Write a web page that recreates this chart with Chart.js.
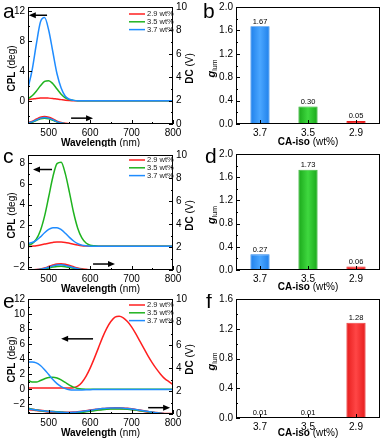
<!DOCTYPE html>
<html>
<head>
<meta charset="utf-8">
<script src="https://cdn.jsdelivr.net/npm/chart.js@4.4.1/dist/chart.umd.min.js"></script>
<style>
  html, body { margin: 0; padding: 0; background: #fff; }
  #fig { position: relative; width: 385px; height: 441px; overflow: hidden; }
  #fig canvas { position: absolute; }
</style>
</head>
<body>
<div id="fig">
  <canvas id="chartA" width="200" height="147" style="left:0;top:0"></canvas>
  <canvas id="chartB" width="185" height="147" style="left:200px;top:0"></canvas>
  <canvas id="chartC" width="200" height="147" style="left:0;top:147px"></canvas>
  <canvas id="chartD" width="185" height="147" style="left:200px;top:147px"></canvas>
  <canvas id="chartE" width="200" height="147" style="left:0;top:294px"></canvas>
  <canvas id="chartF" width="185" height="147" style="left:200px;top:294px"></canvas>
</div>
<script>
// wavelength grid (nm) used by every spectrum
const wavelengths = [450,460,470,480,490,500,510,520,530,540,550,560,570,580,590,600,610,620,
                     630,640,650,660,670,680,690,700,710,720,730,740,750,760,770,780,790,800];
const seriesNames = ['2.9 wt%', '3.5 wt%', '3.7 wt%'];

// panel a - CPL (deg) and DC (V)
const cplA_29 = [0.15,0.22,0.30,0.36,0.38,0.35,0.30,0.22,0.15,0.08,0.04,0.01, 0,0,0,0,0,0,0,0,0,0,0,0, 0,0,0,0,0,0,0,0,0,0,0,0];
const cplA_35 = [0.28,0.66,1.27,2.00,2.57,2.68,2.27,1.56,0.88,0.40,0.15,0.05, 0,0,0,0,0,0,0,0,0,0,0,0, 0,0,0,0,0,0,0,0,0,0,0,0];
const cplA_37 = [1.7,4.1,7.5,10.5,11.1,9.4,6.5,3.6,1.7,0.6,0.2,0.05, 0,0,0,0,0,0,0,0,0,0,0,0, 0,0,0,0,0,0,0,0,0,0,0,0];
const dcA_29 = [0.10,0.20,0.38,0.55,0.62,0.55,0.40,0.22,0.10,0.03,0,0, 0,0,0,0,0,0,0,0,0,0,0,0, 0,0,0,0,0,0,0,0,0,0,0,0];
const dcA_35 = [0.08,0.16,0.30,0.44,0.50,0.44,0.32,0.18,0.08,0.02,0,0, 0,0,0,0,0,0,0,0,0,0,0,0, 0,0,0,0,0,0,0,0,0,0,0,0];
const dcA_37 = [0.09,0.18,0.34,0.50,0.56,0.50,0.36,0.20,0.09,0.03,0,0, 0,0,0,0,0,0,0,0,0,0,0,0, 0,0,0,0,0,0,0,0,0,0,0,0];

// panel c
const cplC_29 = [-0.05,0,0.05,0.12,0.20,0.29,0.36,0.40,0.40,0.36,0.28,0.19, 0.11,0.05,0.02,0,0,0,0,0,0,0,0,0, 0,0,0,0,0,0,0,0,0,0,0,0];
const cplC_35 = [0.08,0.25,0.67,1.51,2.90,4.77,6.68,7.97,8.10,7.00,5.20,3.25, 1.74,0.80,0.31,0.10,0.03,0,0,0,0,0,0,0, 0,0,0,0,0,0,0,0,0,0,0,0];
const cplC_37 = [0.25,0.35,0.55,0.90,1.30,1.62,1.78,1.78,1.60,1.25,0.85,0.50, 0.25,0.10,0.03,0,0,0,0,0,0,0,0,0, 0,0,0,0,0,0,0,0,0,0,0,0];
const dcC_29 = [0,0,0.02,0.06,0.14,0.27,0.40,0.50,0.52,0.47,0.37,0.25, 0.14,0.07,0.03,0,0,0,0,0,0,0,0,0, 0,0,0,0,0,0,0,0,0,0,0,0];
const dcC_35 = [0,0,0.01,0.04,0.09,0.17,0.25,0.31,0.32,0.29,0.22,0.15, 0.08,0.04,0.01,0,0,0,0,0,0,0,0,0, 0,0,0,0,0,0,0,0,0,0,0,0];
const dcC_37 = [0,0,0.02,0.06,0.13,0.24,0.36,0.44,0.45,0.40,0.31,0.20, 0.11,0.05,0.02,0,0,0,0,0,0,0,0,0, 0,0,0,0,0,0,0,0,0,0,0,0];

// panel e
const cplE_29 = [0.15,0.15,0.15,0.15,0.15,0.15,0.15,0.15,0.15,0.15,0.15,0.20, 0.4,0.9,1.7,2.8,4.1,5.5,6.9,8.1,9.0,9.6,9.7,9.5, 9.0,8.3,7.4,6.4,5.4,4.4,3.5,2.7,2.0,1.4,1.0,0.6];
const cplE_35 = [1.20,0.95,0.95,1.15,1.40,1.55,1.60,1.50,1.25,0.90,0.55,0.28, 0.10,0.02,0,0,0,0,0,0,0,0,0,0, 0,0,0,0,0,0,0,0,0,0,0,0];
const cplE_37 = [3.60,3.62,3.50,3.15,2.60,1.95,1.30,0.75,0.35,0.08,-0.08,-0.12, -0.12,-0.10,-0.08,-0.06,-0.05,-0.04,-0.04,-0.04,-0.04,-0.04,-0.04,-0.04, -0.04,-0.04,-0.04,-0.04,-0.04,-0.04,-0.04,-0.04,-0.04,-0.04,-0.04,-0.04];
const dcE_29 = [0.42,0.38,0.33,0.29,0.25,0.21,0.18,0.16,0.14,0.13,0.13,0.14, 0.17,0.21,0.26,0.31,0.36,0.41,0.45,0.48,0.50,0.51,0.51,0.49, 0.46,0.42,0.37,0.31,0.25,0.19,0.14,0.09,0.05,0.02,0.01,0];
const dcE_35 = [0.50,0.42,0.34,0.28,0.24,0.22,0.21,0.19,0.16,0.13,0.11,0.10, 0.11,0.14,0.19,0.24,0.29,0.34,0.38,0.41,0.43,0.44,0.44,0.43, 0.41,0.38,0.34,0.29,0.24,0.19,0.14,0.09,0.05,0.02,0.01,0];
const dcE_37 = [0.45,0.40,0.35,0.30,0.26,0.22,0.20,0.17,0.15,0.14,0.14,0.15, 0.18,0.22,0.27,0.32,0.38,0.43,0.47,0.50,0.52,0.53,0.53,0.51, 0.48,0.44,0.39,0.33,0.27,0.21,0.15,0.10,0.06,0.03,0.01,0];

// g_lum bar panels
const isoLevels = ['3.7', '3.5', '2.9'];
const glumB = [1.67, 0.30, 0.05];
const glumD = [0.27, 1.73, 0.06];
const glumF = [0.01, 0.01, 1.28];

const FONT = "'Liberation Sans', Arial, Helvetica, sans-serif";
Chart.defaults.font.family = FONT;
Chart.defaults.font.size = 10;
Chart.defaults.color = '#000';

const lineColors = ['#ff1f1f', '#1fb31f', '#1f8cff'];   // 2.9, 3.5, 3.7
const barEdge = ['#1f80ea', '#1aa81a', '#e61c1c'];        // 3.7, 3.5, 2.9
const barMid = ['#4aa6ff', '#3fd83f', '#ff4646'];

const B10 = 'bold 10px ' + FONT, R10 = '10px ' + FONT;
const titleWave = [{text: 'Wavelength', font: B10}, {text: ' (nm)', font: R10}];
const titleCpl = [{text: 'CPL', font: B10}, {text: ' (deg)', font: R10}];
const titleDc = [{text: 'DC', font: B10}, {text: ' (V)', font: R10}];
const titleIso = [{text: 'CA-iso', font: B10}, {text: ' (wt%)', font: R10}];
const titleG = [{text: 'g', font: 'italic bold 11px ' + FONT}, {text: 'lum', font: '7px ' + FONT, dy: 3}];

function fmtNum(v) {
  return v < 0 ? '\u2212' + Math.abs(v) : String(v);
}

function fixBox(prop, size) {
  return s => {
    s[prop] = size;
    s.paddingTop = 0; s.paddingBottom = 0; s.paddingLeft = 0; s.paddingRight = 0;
  };
}

function drawParts(ctx, parts, cx, cy, angle) {
  ctx.save();
  ctx.translate(cx, cy);
  ctx.rotate(angle || 0);
  ctx.textBaseline = 'middle';
  ctx.textAlign = 'left';
  let w = 0;
  parts.forEach(p => { ctx.font = p.font; w += ctx.measureText(p.text).width; });
  let x = -w / 2;
  parts.forEach(p => {
    ctx.font = p.font;
    ctx.fillText(p.text, x, p.dy || 0);
    x += ctx.measureText(p.text).width;
  });
  ctx.restore();
}

// box around the plot and inward tick marks
const frameTicks = {
  id: 'frameTicks',
  afterDatasetsDraw(chart) {
    const {ctx, chartArea: a} = chart;
    ctx.save();
    ctx.strokeStyle = '#000';
    ctx.lineWidth = 1;
    ctx.strokeRect(Math.round(a.left) + 0.5, Math.round(a.top) + 0.5,
                   Math.round(a.width) - 1, Math.round(a.height) - 1);
    Object.values(chart.scales).forEach(s => {
      s.ticks.forEach((t, i) => {
        const len = t.label !== '' ? 4 : 2;
        const p = Math.round(s.getPixelForTick(i)) + 0.5;
        ctx.beginPath();
        if (s.position === 'left') { ctx.moveTo(a.left, p); ctx.lineTo(a.left + len, p); }
        else if (s.position === 'right') { ctx.moveTo(a.right, p); ctx.lineTo(a.right - len, p); }
        else { ctx.moveTo(p, a.bottom); ctx.lineTo(p, a.bottom - len); }
        ctx.stroke();
      });
    });
    ctx.restore();
  }
};

// panel letters, axis titles, arrows, legend, bar values
const decor = {
  id: 'decor',
  afterDraw(chart, args, o) {
    const {ctx, chartArea: a} = chart;
    const midX = (a.left + a.right) / 2, midY = (a.top + a.bottom) / 2;
    ctx.save();
    ctx.fillStyle = '#000';
    ctx.font = '21px ' + FONT;
    ctx.textAlign = 'left';
    ctx.textBaseline = 'alphabetic';
    ctx.fillText(o.letter, o.letterX, o.letterY);
    drawParts(ctx, o.xTitle, midX, o.xTitleY, 0);
    drawParts(ctx, o.yTitle, o.yTitleX, midY + 3, -Math.PI / 2);
    if (o.y2Title) drawParts(ctx, o.y2Title, o.y2TitleX, midY + 3, -Math.PI / 2);

    (o.arrows || []).forEach(ar => {
      const xs = chart.scales.x, ys = chart.scales[ar.axis];
      const x1 = xs.getPixelForValue(ar.from), x2 = xs.getPixelForValue(ar.to);
      const y = ys.getPixelForValue(ar.at);
      const dir = Math.sign(x2 - x1);
      ctx.strokeStyle = '#000';
      ctx.lineWidth = 1.5;
      ctx.beginPath(); ctx.moveTo(x1, y); ctx.lineTo(x2 - dir * 5, y); ctx.stroke();
      ctx.beginPath();
      ctx.moveTo(x2, y); ctx.lineTo(x2 - dir * 7, y - 3); ctx.lineTo(x2 - dir * 7, y + 3);
      ctx.closePath(); ctx.fill();
    });

    if (o.legendTop !== undefined) {
      ctx.font = '7.5px ' + FONT;
      ctx.textBaseline = 'middle';
      seriesNames.forEach((name, i) => {
        const y = a.top + o.legendTop + i * 7.8;
        ctx.strokeStyle = lineColors[i];
        ctx.lineWidth = 1.5;
        ctx.beginPath(); ctx.moveTo(a.right - 44, y); ctx.lineTo(a.right - 28, y); ctx.stroke();
        ctx.fillStyle = '#222';
        ctx.fillText(name, a.right - 26, y);
      });
    }

    if (o.barLabels) {
      const meta = chart.getDatasetMeta(0);
      const vals = chart.data.datasets[0].data;
      ctx.fillStyle = '#000';
      ctx.font = '7.5px ' + FONT;
      ctx.textAlign = 'center';
      ctx.textBaseline = 'bottom';
      meta.data.forEach((bar, i) => ctx.fillText(vals[i].toFixed(2), bar.x, bar.y - 1));
    }
    ctx.restore();
  }
};

function spectrumChart(id, cpl, dc, c) {
  const mk = (vals, color, axis, width, order) => ({
    data: vals.map((v, i) => ({x: wavelengths[i], y: v})),
    borderColor: color, borderWidth: width, yAxisID: axis, order: order,
    pointRadius: 0, cubicInterpolationMode: 'monotone', fill: false
  });
  const datasets = [
    mk(dc[0], lineColors[0], 'y2', 2.2, 6),
    mk(dc[1], lineColors[1], 'y2', 1.5, 5),
    mk(dc[2], lineColors[2], 'y2', 1.5, 4),
    mk(cpl[0], lineColors[0], 'y', 1.5, 3),
    mk(cpl[1], lineColors[1], 'y', 1.5, 2),
    mk(cpl[2], lineColors[2], 'y', 1.5, 1)
  ];
  const noGrid = {display: false, drawTicks: false};
  new Chart(document.getElementById(id), {
    type: 'line',
    data: {datasets: datasets},
    plugins: [frameTicks, decor],
    options: {
      responsive: false,
      animation: false,
      layout: {padding: {top: c.top, right: 0, left: 0, bottom: 0}},
      plugins: {
        legend: {display: false},
        tooltip: {enabled: false},
        decor: {
          letter: c.letter, letterX: 3, letterY: c.letterY,
          xTitle: titleWave, xTitleY: c.xTitleY,
          yTitle: titleCpl, yTitleX: 12,
          y2Title: titleDc, y2TitleX: 190,
          arrows: c.arrows, legendTop: c.legendTop
        }
      },
      scales: {
        x: {
          type: 'linear', position: 'bottom', min: 450, max: 800,
          grid: noGrid, border: {display: false},
          ticks: {stepSize: 50, autoSkip: false, includeBounds: false, maxRotation: 0, padding: 3,
                  callback: v => (v % 100 === 0 ? String(v) : '')},
          afterFit: fixBox('height', c.xHeight)
        },
        y: {
          type: 'linear', position: 'left', min: c.cplMin, max: c.cplMax,
          grid: noGrid, border: {display: false},
          ticks: {stepSize: c.cplStep, autoSkip: false, includeBounds: false, padding: 3,
                  callback: v => (v % c.cplLabel === 0 ? fmtNum(v) : '')},
          afterFit: fixBox('width', 28)
        },
        y2: {
          type: 'linear', position: 'right', min: 0, max: 10,
          grid: noGrid, border: {display: false},
          ticks: {stepSize: 1, autoSkip: false, includeBounds: false, padding: 3,
                  callback: v => (v % 2 === 0 ? String(v) : '')},
          afterFit: fixBox('width', 27)
        }
      }
    }
  });
}

function barFill(context) {
  const chart = context.chart, i = context.dataIndex;
  if (!chart.chartArea) return barMid[i];
  const xs = chart.scales.x;
  const cx = xs.getPixelForValue(i);
  const half = xs.width / isoLevels.length * 0.4 / 2;
  const g = chart.ctx.createLinearGradient(cx - half, 0, cx + half, 0);
  g.addColorStop(0, barEdge[i]);
  g.addColorStop(0.5, barMid[i]);
  g.addColorStop(1, barEdge[i]);
  return g;
}

function glumChart(id, values, c) {
  const noGrid = {display: false, drawTicks: false};
  new Chart(document.getElementById(id), {
    type: 'bar',
    data: {
      labels: isoLevels,
      datasets: [{
        data: values,
        backgroundColor: barFill,
        borderColor: barEdge,
        borderWidth: 0.8,
        barPercentage: 0.4,
        categoryPercentage: 1.0
      }]
    },
    plugins: [frameTicks, decor],
    options: {
      responsive: false,
      animation: false,
      layout: {padding: {top: c.top, right: 5, left: 0, bottom: 0}},
      plugins: {
        legend: {display: false},
        tooltip: {enabled: false},
        decor: {
          letter: c.letter, letterX: c.letterX, letterY: c.letterY,
          xTitle: titleIso, xTitleY: c.xTitleY,
          yTitle: titleG, yTitleX: 12,
          barLabels: true
        }
      },
      scales: {
        x: {
          grid: noGrid, border: {display: false},
          ticks: {autoSkip: false, maxRotation: 0, padding: 3},
          afterFit: fixBox('height', c.xHeight)
        },
        y: {
          position: 'left', min: 0, max: c.max,
          grid: noGrid, border: {display: false},
          ticks: {stepSize: 0.2, autoSkip: false, padding: 3,
                  callback: v => (Math.round(v * 10) % 4 === 0 ? v.toFixed(1) : '')},
          afterFit: fixBox('width', 36)
        }
      }
    }
  });
}

spectrumChart('chartA', [cplA_29, cplA_35, cplA_37], [dcA_29, dcA_35, dcA_37], {
  letter: 'a', letterY: 18, top: 7, xHeight: 23, xTitleY: 143,
  cplMin: -3.1, cplMax: 12.5, cplStep: 2, cplLabel: 4, legendTop: 7,
  arrows: [{axis: 'y', from: 496, to: 452, at: 11.4}, {axis: 'y2', from: 554, to: 607, at: 0.5}]
});
spectrumChart('chartC', [cplC_29, cplC_35, cplC_37], [dcC_29, dcC_35, dcC_37], {
  letter: 'c', letterY: 16, top: 8, xHeight: 24, xTitleY: 142,
  cplMin: -2.3, cplMax: 8.8, cplStep: 1, cplLabel: 2, legendTop: 5,
  arrows: [{axis: 'y', from: 508, to: 462, at: 7.4}, {axis: 'y2', from: 607, to: 660, at: 0.52}]
});
spectrumChart('chartE', [cplE_29, cplE_35, cplE_37], [dcE_29, dcE_35, dcE_37], {
  letter: 'e', letterY: 14, top: 5, xHeight: 27, xTitleY: 139,
  cplMin: -3.3, cplMax: 12, cplStep: 1, cplLabel: 2, legendTop: 6,
  arrows: [{axis: 'y', from: 607, to: 530, at: 6.7}, {axis: 'y2', from: 740, to: 793, at: 0.55}]
});

glumChart('chartB', glumB, {letter: 'b', letterX: 3, letterY: 18, top: 7, xHeight: 23, xTitleY: 142, max: 2.0});
glumChart('chartD', glumD, {letter: 'd', letterX: 5, letterY: 16, top: 7, xHeight: 24, xTitleY: 140, max: 2.0});
glumChart('chartF', glumF, {letter: 'f', letterX: 6, letterY: 14, top: 5, xHeight: 23, xTitleY: 139, max: 1.6});
</script>
</body>
</html>
